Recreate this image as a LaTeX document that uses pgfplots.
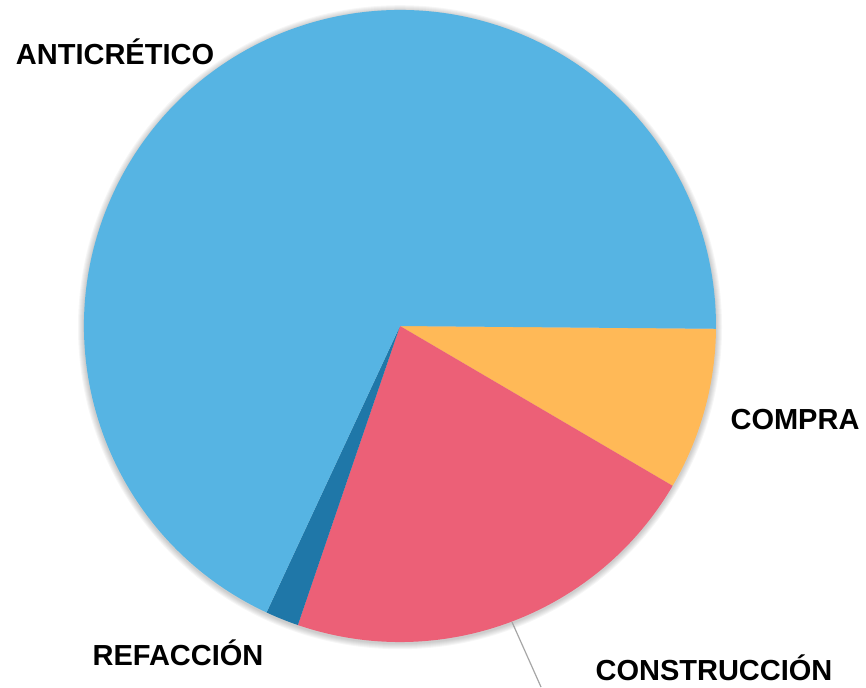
\documentclass[border=0pt]{standalone}
\usepackage{fontspec}
\setmainfont{Liberation Sans}
\usepackage{pgfplots}
\usepackage{pgfplotstable}
\pgfplotsset{compat=1.18}

\definecolor{pie0}{HTML}{FFB957}
\definecolor{pie1}{HTML}{EC6077}
\definecolor{pie2}{HTML}{1F77A8}
\definecolor{pie3}{HTML}{56B4E3}

% slices clockwise from the east, share in percent; label position in px
\pgfplotstableread[col sep=comma]{
label,value,lx,ly
COMPRA,8.3,795,420
CONSTRUCCIÓN,21.8,714,668
REFACCIÓN,1.7,178,653
ANTICRÉTICO,68.2,115,52
}\piedata

\begin{document}
\begin{tikzpicture}
\begin{axis}[
    x=0.5pt, y=-0.5pt,
    xmin=0, xmax=866, ymin=0, ymax=687,
    hide axis, clip=false,
]
\pgfplotsextra{
  \coordinate (c) at (axis cs:400,326);
  % soft shadow
  \foreach \k in {1,...,6}
    \fill[black, opacity=0.035] ([yshift=-0.6pt]c) circle[radius=158pt+0.5pt*\k];
  \xdef\angA{-0.5}
  \foreach \i in {0,...,3}{
    \pgfplotstablegetelem{\i}{value}\of\piedata
    \pgfmathsetmacro\angB{\angA-3.6*\pgfplotsretval}
    \fill[pie\i] (c) -- ([shift={(\angA:158pt)}]c)
      arc[start angle=\angA, end angle=\angB, radius=158pt] -- cycle;
    \xdef\angA{\angB}
  }
  \foreach \i in {0,...,3}{
    \pgfplotstablegetelem{\i}{label}\of\piedata \let\lab\pgfplotsretval
    \pgfplotstablegetelem{\i}{lx}\of\piedata \let\lx\pgfplotsretval
    \pgfplotstablegetelem{\i}{ly}\of\piedata \let\ly\pgfplotsretval
    \node[font=\fontsize{14.5}{16}\selectfont\bfseries, inner sep=0pt]
      at (axis cs:\lx,\ly) {\lab};
  }
  \draw[gray!70, line width=0.6pt] (axis cs:512,622) -- (axis cs:541,687);
}
\end{axis}
\pgfresetboundingbox
\path (current axis.south west) rectangle (current axis.north east);
\end{tikzpicture}
\end{document}
